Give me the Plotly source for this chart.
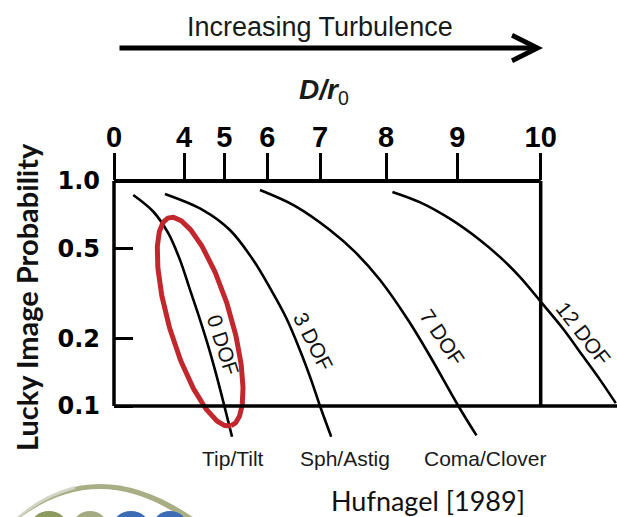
import numpy as np
import plotly.graph_objects as go

# ---------------- data ----------------
X_TICK_VALUES = [0, 4, 5, 6, 7, 8, 9, 10]
X_TICK_TEXT = ["0", "4", "5", "6", "7", "8", "9", "10"]
Y_TICK_VALUES = [0.1, 0.2, 0.5, 1.0]
Y_TICK_TEXT = ["0.1", "0.2", "0.5", "1.0"]

CURVE_NAMES = ["0 DOF", "3 DOF", "7 DOF", "12 DOF"]
DOF0_D = [1.10, 2.25, 3.10, 3.77, 4.15, 4.40, 4.60, 4.79, 4.99, 5.18]
DOF0_P = [0.866, 0.730, 0.586, 0.446, 0.328, 0.241, 0.185, 0.140, 0.102, 0.073]
DOF3_D = [2.91, 4.47, 5.13, 5.64, 6.05, 6.36, 6.62, 6.83, 7.00, 7.17]
DOF3_P = [0.875, 0.743, 0.606, 0.455, 0.335, 0.246, 0.177, 0.131, 0.100, 0.073]
DOF7_D = [5.83, 6.53, 7.15, 7.53, 7.91, 8.31, 8.62, 9.02, 9.23]
DOF7_P = [0.912, 0.774, 0.606, 0.484, 0.363, 0.241, 0.166, 0.099, 0.074]
DOF12_D = [8.09, 8.48, 8.90, 9.27, 9.51, 9.75, 10.0, 10.27, 10.51, 10.71, 10.90]
DOF12_P = [0.894, 0.803, 0.678, 0.547, 0.460, 0.375, 0.291, 0.220, 0.166, 0.131, 0.103]

LABEL_D = [4.96, 6.87, 8.79, 10.51]
LABEL_P = [0.187, 0.193, 0.201, 0.209]

MODE_NAMES = ["Tip/Tilt", "Sph/Astig", "Coma/Clover"]

# highlighted region (red ellipse) centre
ELLIPSE_D = 4.40
ELLIPSE_P = 0.237

# ---------------- layout constants ----------------
W, H = 617, 517
ML, MR, MT, MB = 114, 0, 181, 72
PLOT_W = W - ML - MR
PLOT_H = H - MT - MB
# hand-drawn (non-linear) D/r0 scale: pixel offset of each tick inside plot area
TICK_POS = [0, 70, 110.3, 153.3, 206, 272, 343.3, 426.7]
Y_LOG_MIN = -1.1733
PX_PER_DEC = PLOT_H / (0 - Y_LOG_MIN)

LABEL_ANGLE = [72, 63, 56, 52]
FONT = "Liberation Sans, Arial, sans-serif"
CAL = "Lato, Carlito, Calibri, sans-serif"


def to_u(d):
    d = np.atleast_1d(np.asarray(d, dtype=float))
    u = np.interp(d, X_TICK_VALUES, TICK_POS)
    slope = (TICK_POS[-1] - TICK_POS[-2]) / (X_TICK_VALUES[-1] - X_TICK_VALUES[-2])
    hi = d > X_TICK_VALUES[-1]
    u[hi] = TICK_POS[-1] + (d[hi] - X_TICK_VALUES[-1]) * slope
    return u


def xp(d):
    return float(to_u(d)[0] / PLOT_W)


def yp(p):
    return float((np.log10(p) - Y_LOG_MIN) / (0 - Y_LOG_MIN))


def paper(px, py):
    return (px - ML) / PLOT_W, (H - MB - py) / PLOT_H


fig = go.Figure()

curves = [(DOF0_D, DOF0_P), (DOF3_D, DOF3_P), (DOF7_D, DOF7_P), (DOF12_D, DOF12_P)]
for name, (dd, pp) in zip(CURVE_NAMES, curves):
    fig.add_trace(go.Scatter(
        x=to_u(dd), y=pp, mode="lines", name=name,
        line=dict(color="black", width=2.6, shape="spline", smoothing=1.0),
        hoverinfo="skip", showlegend=False))

# red ellipse
t = np.linspace(0, 2 * np.pi, 240)
ax_u = np.array([0.285, 0.959])
ax_v = np.array([0.959, -0.285])
A, B = 108.5, 31.0
dx = A * np.cos(t) * ax_u[0] + B * np.sin(t) * ax_v[0]
dy = A * np.cos(t) * ax_u[1] + B * np.sin(t) * ax_v[1]
eu = to_u(ELLIPSE_D)[0] + dx
ep = 10 ** (np.log10(ELLIPSE_P) - dy / PX_PER_DEC)
fig.add_trace(go.Scatter(x=eu, y=ep, mode="lines",
                         line=dict(color="#c1272d", width=5),
                         hoverinfo="skip", showlegend=False))

ann = []


def text_at(px, py, text, font, angle=0):
    x, y = paper(px, py)
    ann.append(dict(x=x, y=y, xref="paper", yref="paper", text=text, textangle=angle,
                    xanchor="center", yanchor="middle", showarrow=False, font=font))


for name, d, p, ang in zip(CURVE_NAMES, LABEL_D, LABEL_P, LABEL_ANGLE):
    ann.append(dict(x=to_u(d)[0], y=np.log10(p), xref="x", yref="y", text=name,
                    textangle=ang, showarrow=False, xanchor="center", yanchor="middle",
                    font=dict(family=FONT, size=21, color="#111")))

for name, px in zip(MODE_NAMES, [233, 345, 485]):
    text_at(px, 458, name, dict(family=FONT, size=21, color="#1a1a1a"))

text_at(320, 27, "Increasing Turbulence", dict(family=FONT, size=27, color="#1a1a1a"))
text_at(324, 92, "<b><i>D/r</i></b><sub>0</sub>",
        dict(family=FONT, size=28, color="#1a1a1a"))
text_at(26, 297, "Lucky Image Probability",
        dict(family=CAL, size=29, color="#111", weight="bold"), angle=-90)
text_at(428, 500, "Hufnagel [1989]", dict(family=CAL, size=27, color="#111"))

x, y = paper(543, 48)
ann.append(dict(x=x, y=y, xref="paper", yref="paper", text="", showarrow=True,
                ax=-425, ay=0, axref="pixel", ayref="pixel",
                arrowhead=5, arrowwidth=5, arrowsize=1, arrowcolor="black", standoff=0))

shapes = []
frame = [
    (xp(0), xp(10), yp(1.0), yp(1.0), 4),
    (xp(0), xp(0), yp(0.1), yp(1.0), 3.5),
    (xp(10), xp(10), yp(0.1), yp(1.0), 3.5),
    (xp(0), 1.0, yp(0.1), yp(0.1), 3.5),
]
for x0, x1, y0, y1, w in frame:
    shapes.append(dict(type="line", xref="paper", yref="paper", x0=x0, x1=x1, y0=y0, y1=y1,
                       line=dict(color="black", width=w)))


# logo fragment (bottom-left)
def pth(points):
    s = ""
    for cmd, pts in points:
        s += cmd + " ".join("%.4f,%.4f" % paper(px, py) for px, py in pts) + " "
    return s + "Z"


shapes.append(dict(type="path", xref="paper", yref="paper",
                   path=pth([("M", [(14, 520)]), ("Q", [(95, 448), (197, 520)]),
                             ("L", [(186, 520)]), ("Q", [(98, 458), (17, 520)])]),
                   fillcolor="#a9ae85", line=dict(width=0)))
shapes.append(dict(type="path", xref="paper", yref="paper",
                   path=pth([("M", [(14, 520)]), ("Q", [(40, 495), (75, 486)]),
                             ("L", [(75, 489)]), ("Q", [(42, 498), (17, 520)])]),
                   fillcolor="#d3d6c6", line=dict(width=0)))
for (x0, x1, c) in [(30, 68, "#8c9a5e"), (72, 108, "#a4ab82"), (112, 150, "#3b6cb4"), (152, 188, "#3b6cb4")]:
    a0, b0 = paper(x0, 511)
    a1, b1 = paper(x1, 545)
    shapes.append(dict(type="circle", xref="paper", yref="paper", x0=a0, x1=a1, y0=b1, y1=b0,
                       fillcolor=c, line=dict(width=0)))

fig.update_layout(
    width=W, height=H,
    margin=dict(l=ML, r=MR, t=MT, b=MB, pad=0),
    paper_bgcolor="white", plot_bgcolor="white",
    annotations=ann, shapes=shapes, showlegend=False,
    xaxis=dict(range=[0, PLOT_W], side="top", tickmode="array", tickvals=TICK_POS,
               ticktext=X_TICK_TEXT, ticks="outside", ticklen=27, tickwidth=3,
               tickcolor="black", showline=False, showgrid=False, zeroline=False,
               ticklabelstandoff=-6,
               tickfont=dict(family=FONT, size=29, color="black", weight="bold")),
    yaxis=dict(type="log", range=[Y_LOG_MIN, 0], tickmode="array", tickvals=Y_TICK_VALUES,
               ticktext=Y_TICK_TEXT, ticks="inside", ticklen=19, tickwidth=3,
               tickcolor="black", showline=False, showgrid=False, zeroline=False,
               ticklabelstandoff=13,
               tickfont=dict(family="DejaVu Sans, sans-serif", size=24, color="black",
                             weight="bold")),
)

fig.write_html("out.html", config={"displayModeBar": False},
               post_script="document.body.style.margin='0';")
